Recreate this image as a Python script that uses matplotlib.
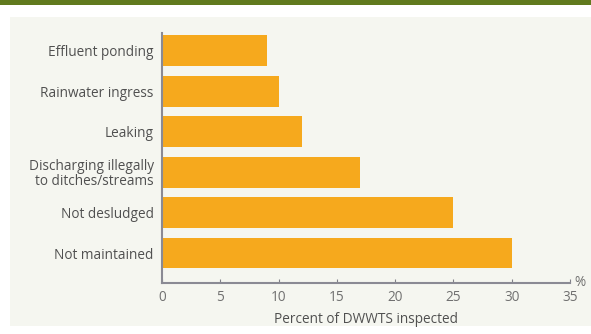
import matplotlib
matplotlib.use("Agg")
import matplotlib.pyplot as plt
from matplotlib.patches import Rectangle

categories = ["Effluent ponding", "Rainwater ingress", "Leaking",
              "Discharging illegally\nto ditches/streams", "Not desludged", "Not maintained"]
values = [9, 10, 12, 17, 25, 30]
xticks = [0, 5, 10, 15, 20, 25, 30, 35]

plt.rcParams['font.family'] = ['Open Sans', 'DejaVu Sans']
FS = 9.8

fig = plt.figure(figsize=(5.91, 3.34), dpi=100)
fig.patch.set_facecolor("white")

# top green band
fig.add_artist(Rectangle((0, 1 - 5/334), 1, 5/334, transform=fig.transFigure,
                         facecolor="#617a1e", edgecolor="none", zorder=0))
# light panel
fig.add_artist(Rectangle((10/591, 1 - 326/334), 1 - 10/591, (326 - 17)/334,
                         transform=fig.transFigure, facecolor="#f5f6f0",
                         edgecolor="none", zorder=0))

ax = fig.add_axes([162/591, 1 - 283/334, (570 - 162)/591, (283 - 33)/334])
ax.set_facecolor("none")

n = len(categories)
ypos = [n - 1 - i for i in range(n)]
ax.barh(ypos, values, height=0.76, color="#f6a91d", edgecolor="none", zorder=2)

ax.set_xlim(0, 35)
ax.set_ylim(-0.74, n - 1 + 0.44)
ax.set_yticks(ypos)
ax.set_yticklabels(categories, fontsize=FS, color="#505050", linespacing=1.0)
ax.set_xticks(xticks)
ax.set_xticklabels([str(t) for t in xticks], fontsize=FS, color="#707070")
ax.tick_params(axis="y", length=0, pad=6)
ax.tick_params(axis="x", direction="in", length=3, width=0.8, color="#808088", pad=5)

for s in ["top", "right"]:
    ax.spines[s].set_visible(False)
for s in ["left", "bottom"]:
    ax.spines[s].set_color("#8a8a94")
    ax.spines[s].set_linewidth(1.5)

ax.text(1.01, 0.0, "%", transform=ax.transAxes, fontsize=FS, color="#707070",
        ha="left", va="center")
ax.set_xlabel("Percent of DWWTS inspected", fontsize=FS, color="#505050", labelpad=5)

fig.savefig("out.png", dpi=100)
